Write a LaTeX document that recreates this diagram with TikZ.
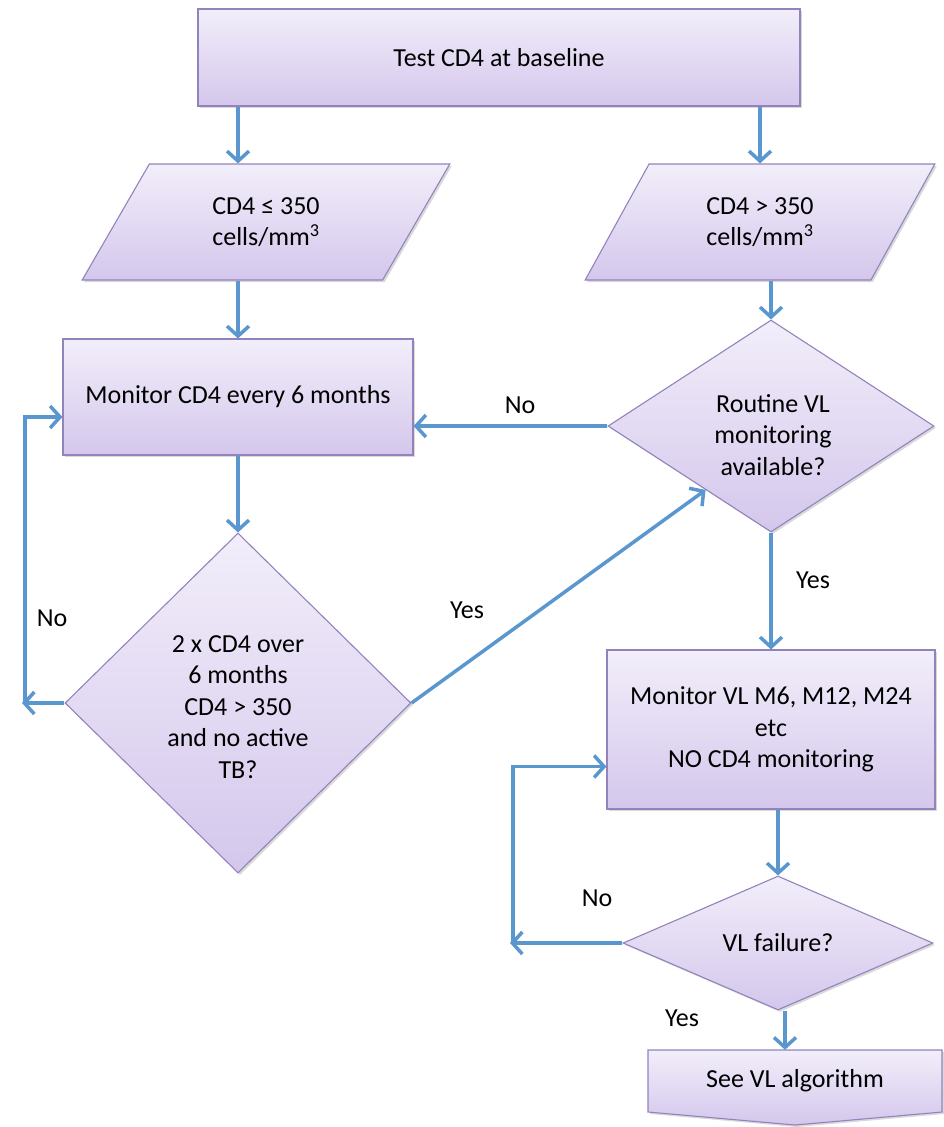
\documentclass[tikz,border=0pt]{standalone}
\usepackage{fontspec}
\setmainfont{Carlito}
\usetikzlibrary{arrows.meta,shapes.geometric,shadows,calc}
\definecolor{fillT}{HTML}{F2EEFA}
\definecolor{fillB}{HTML}{D4C7EC}
\definecolor{edgec}{HTML}{9383BD}
\definecolor{arrc}{HTML}{5B97CF}
\tikzset{
  shp/.style={draw=edgec, line width=1.1pt, top color=fillT, bottom color=fillB,
    drop shadow={shadow xshift=2pt, shadow yshift=-2pt, opacity=0.25, fill=black!60},
    inner sep=0pt, align=center, font=\fontsize{26}{31.5}\selectfont},
  txt/.style={inner sep=0pt, align=center, font=\fontsize{26}{31.5}\selectfont},
  conn/.style={draw=arrc, line width=3.5pt, -{Straight Barb[length=10pt,width=22pt]}},
  lbl/.style={inner sep=0pt, font=\fontsize{26}{31.5}\selectfont},
  para/.style={shp, trapezium, trapezium left angle=58, trapezium right angle=122, trapezium stretches=true, minimum height=116pt},
}
\begin{document}
\begin{tikzpicture}[x=1pt,y=-1pt]
\useasboundingbox (0,0) rectangle (944,1127);
% nodes
\node[shp, rectangle, minimum width=602pt, minimum height=97pt] (tb) at (499,57.5) {Test CD4 at baseline};
\node[para, minimum width=368pt] (p1) at (266,222) {CD4 ≤ 350\\cells/mm\textsuperscript{3}};
\node[para, minimum width=350pt] (p2) at (760,222) {CD4 > 350\\cells/mm\textsuperscript{3}};
\node[shp, rectangle, minimum width=350pt, minimum height=116pt] (m1) at (238,397) {Monitor CD4 every 6 months};
\node[shp, diamond, minimum width=346pt, minimum height=340pt] (d1) at (238,703) {};
\node[txt] (d1t) at (238,707) {2 x CD4 over\\6 months\\CD4 > 350\\and no active\\TB?};
\node[shp, diamond, aspect=1.5, minimum width=326pt, minimum height=212pt] (rd) at (771,426) {};
\node[txt] (rdt) at (773,435) {Routine VL\\monitoring\\available?};
\node[shp, rectangle, minimum width=328pt, minimum height=159pt] (m2) at (771,729.5) {Monitor VL M6, M12, M24\\etc\\NO CD4 monitoring};
\node[shp, diamond, aspect=2.3, minimum width=310pt, minimum height=134pt] (d2) at (778,943) {VL failure?};
\path[shp] (648,1050) -- (942,1050) -- (942,1112) -- (795,1125) -- (648,1112) -- cycle;
\node[txt, minimum width=294pt, minimum height=62pt] (see) at (795,1081) {See VL algorithm};
% loop corners
\coordinate (l1) at (22,703);
\coordinate (l2) at (510,943);
% connectors
\draw[conn] (tb.south -| m1.north) -- (p1.north -| m1.north);
\draw[conn] (p1.south -| m1.north) -- (m1.north);
\draw[conn] (tb.south -| p2.north) -- (p2.north);
\draw[conn] (p2.south -| rd.north) -- (rd.north);
\draw[conn] (m1.south) -- (d1.north);
\draw[conn] (rd.west) -- (rd.west -| m1.east);
\draw[conn] (d1.east) -- ($(rd.west)!0.6!(rd.south)$);
\draw[conn] (d1.west) -- (l1);
\draw[conn] ($(l1)+(3,0)$) |- ($(m1.west)+(0,20)$);
\draw[conn] (rd.south) -- (m2.north);
\draw[conn] (m2.south -| d2.north) -- (d2.north);
\draw[conn] (d2.west) -- (l2);
\draw[conn] ($(l2)+(3,0)$) |- ($(m2.west)+(0,37)$);
\draw[conn] (d2.south -| 785,0) -- (see.north -| 785,0);
% labels
\node[lbl] (n1) at (520,405) {No};
\node[lbl] (y1) at (467,610) {Yes};
\node[lbl] (n2) at (52,618) {No};
\node[lbl] (y2) at (813,580) {Yes};
\node[lbl] (n3) at (597,898) {No};
\node[lbl] (y3) at (682,1018) {Yes};
\end{tikzpicture}
\end{document}
